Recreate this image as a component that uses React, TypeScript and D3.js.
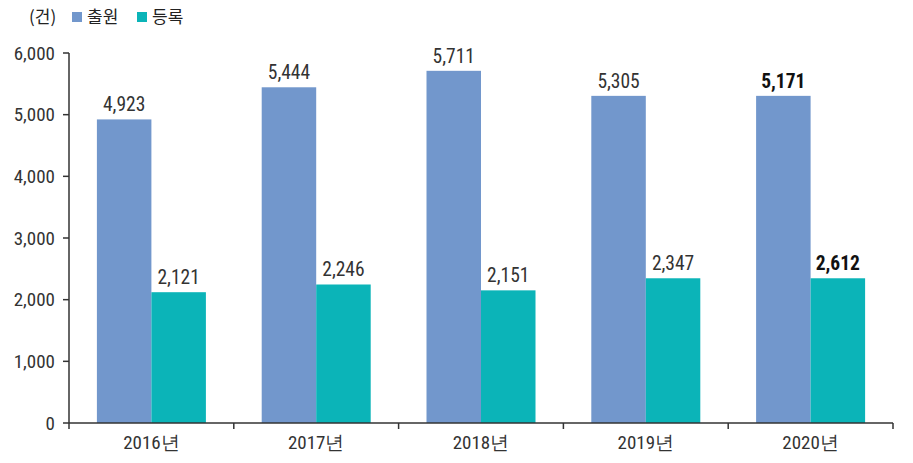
import React from "react";
import * as d3 from "d3";

const years = ["2016년", "2017년", "2018년", "2019년", "2020년"];
const applications = [4923, 5444, 5711, 5305, 5305];
const registrations = [2121, 2246, 2151, 2347, 2347];
const applicationLabels = ["4,923", "5,444", "5,711", "5,305", "5,171"];
const registrationLabels = ["2,121", "2,246", "2,151", "2,347", "2,612"];
const boldLabel = [false, false, false, false, true];
const yTicks = [0, 1000, 2000, 3000, 4000, 5000, 6000];

const W = 913, H = 463;
const left = 69, right = 893, top = 53, bottom = 423;
const BLUE = "#7297cc";
const TEAL = "#0bb4b8";
const FONT = "'Liberation Sans Narrow', 'Arial Narrow', 'Roboto Condensed', 'Liberation Sans', sans-serif";
const KFONT = "'Noto Sans CJK KR', 'Noto Sans', sans-serif";

export default function App() {
  const x = d3.scaleBand<string>().domain(years).range([left, right]).paddingInner(0).paddingOuter(0);
  const y = d3.scaleLinear().domain([0, 6000]).range([bottom, top]);
  const barW = 54.5;
  const off = (x.bandwidth() - barW * 2) / 2;
  const axisColor = "#333";
  return (
    <svg width={W} height={H} style={{ position: "absolute", left: 0, top: 0, background: "#fff" }}>
      {/* legend */}
      <text x={29} y={23} fontFamily={KFONT} fontSize={17} fill="#222">(건)</text>
      <rect x={72} y={12} width={10} height={10} fill={BLUE} />
      <text x={87} y={23} fontFamily={KFONT} fontSize={17} fill="#222">출원</text>
      <rect x={137} y={12} width={10} height={10} fill={TEAL} />
      <text x={152} y={23} fontFamily={KFONT} fontSize={17} fill="#222">등록</text>

      {/* bars */}
      {years.map((yr, i) => {
        const x0 = (x(yr) as number) + off;
        return (
          <g key={yr}>
            <rect x={x0} y={y(applications[i])} width={barW} height={bottom - y(applications[i])} fill={BLUE} />
            <rect x={x0 + barW} y={y(registrations[i])} width={barW} height={bottom - y(registrations[i])} fill={TEAL} />
            <text x={x0 + barW / 2} y={y(applications[i]) - 8} textAnchor="middle" fontFamily={FONT}
              fontSize={boldLabel[i] ? 19.5 : 19.5} fontWeight={boldLabel[i] ? "bold" : "normal"} fill={boldLabel[i] ? "#111" : "#333"}>
              {applicationLabels[i]}
            </text>
            <text x={x0 + barW * 1.5} y={y(registrations[i]) - 8} textAnchor="middle" fontFamily={FONT}
              fontSize={boldLabel[i] ? 19.5 : 19.5} fontWeight={boldLabel[i] ? "bold" : "normal"} fill={boldLabel[i] ? "#111" : "#333"}>
              {registrationLabels[i]}
            </text>
          </g>
        );
      })}

      {/* y axis */}
      <line x1={left} x2={left} y1={top} y2={bottom} stroke={axisColor} strokeWidth={1.5} />
      {yTicks.map((t) => (
        <g key={t}>
          <line x1={left - 6} x2={left} y1={y(t)} y2={y(t)} stroke={axisColor} strokeWidth={1.5} />
          <text x={left - 14} y={y(t) + 6.5} textAnchor="end" fontFamily={FONT} fontSize={19} fill="#333">
            {d3.format(",")(t)}
          </text>
        </g>
      ))}

      {/* x axis */}
      <line x1={left} x2={right} y1={bottom} y2={bottom} stroke={axisColor} strokeWidth={1.5} />
      {[...years.map((yr) => x(yr) as number), right].map((p, i) => (
        <line key={i} x1={p} x2={p} y1={bottom} y2={bottom + 6} stroke={axisColor} strokeWidth={1.5} />
      ))}
      {years.map((yr) => (
        <text key={yr} x={(x(yr) as number) + x.bandwidth() / 2} y={bottom + 26} textAnchor="middle"
          fontFamily={FONT} fontSize={19} fill="#333">
          {yr}
        </text>
      ))}
    </svg>
  );
}
